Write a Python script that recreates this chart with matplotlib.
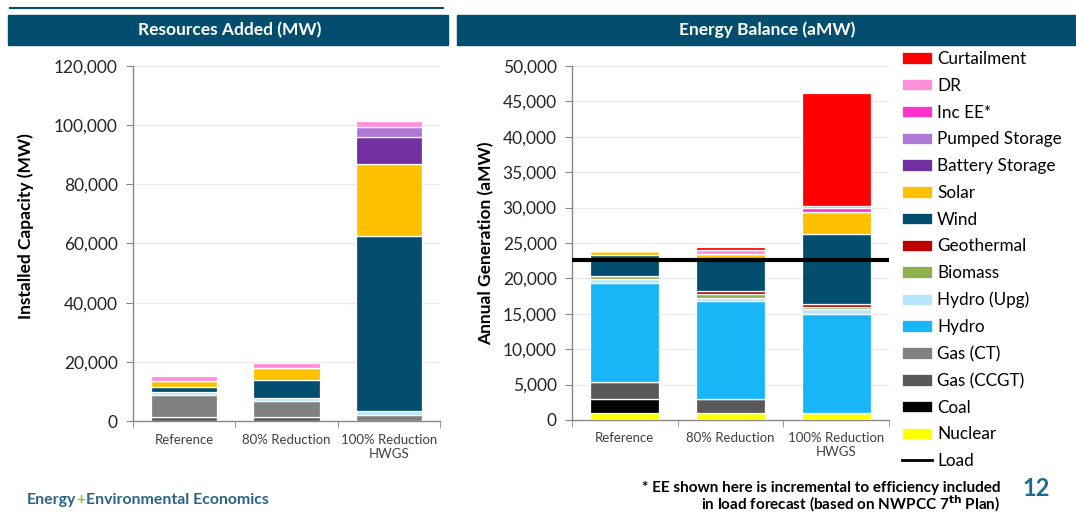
import numpy as np
import matplotlib
matplotlib.use("Agg")
import matplotlib.pyplot as plt
from matplotlib.patches import Rectangle, Patch
from matplotlib.lines import Line2D

plt.rcParams['font.family'] = ['Lato', 'DejaVu Sans']

# ---- data ----
scenarios = ["Reference", "80% Reduction", "100% Reduction\nHWGS"]

# Resources Added (MW)
add_ccgt = [1500, 1400, 0]
add_ct = [7200, 5400, 1900]
add_hydro_upg = [1100, 1100, 1400]
add_wind = [1700, 5900, 59200]
add_solar = [2000, 4000, 24300]
add_battery = [0, 0, 9100]
add_pumped = [0, 0, 3500]
add_dr = [1600, 1800, 2000]

# Energy Balance (aMW)
gen_nuclear = [1000, 1000, 1000]
gen_coal = [2000, 0, 0]
gen_ccgt = [2400, 1900, 0]
gen_ct = [0, 0, 0]
gen_hydro = [14000, 13900, 14000]
gen_hydro_upg = [500, 500, 700]
gen_biomass = [500, 500, 300]
gen_geothermal = [0, 400, 400]
gen_wind = [2900, 4600, 9900]
gen_solar = [500, 700, 3100]
gen_battery = [0, 0, 0]
gen_pumped = [0, 0, 0]
gen_inc_ee = [0, 0, 600]
gen_dr = [0, 500, 200]
gen_curtail = [0, 400, 16000]
load = 22600

colors = {
    "Curtailment": "#FF0000",
    "DR": "#FF8FDA",
    "Inc EE*": "#FF33CC",
    "Pumped Storage": "#AE78D6",
    "Battery Storage": "#7030A0",
    "Solar": "#FFC000",
    "Wind": "#034E6E",
    "Geothermal": "#C00000",
    "Biomass": "#8FB24E",
    "Hydro (Upg)": "#B8E6FA",
    "Hydro": "#19B6F7",
    "Gas (CT)": "#808080",
    "Gas (CCGT)": "#595959",
    "Coal": "#000000",
    "Nuclear": "#FFFF00",
}
teal = "#034E6E"

left_layers = [("Gas (CCGT)", add_ccgt), ("Gas (CT)", add_ct), ("Hydro (Upg)", add_hydro_upg),
               ("Wind", add_wind), ("Solar", add_solar), ("Battery Storage", add_battery),
               ("Pumped Storage", add_pumped), ("DR", add_dr)]
right_layers = [("Nuclear", gen_nuclear), ("Coal", gen_coal), ("Gas (CCGT)", gen_ccgt),
                ("Gas (CT)", gen_ct), ("Hydro", gen_hydro), ("Hydro (Upg)", gen_hydro_upg),
                ("Biomass", gen_biomass), ("Geothermal", gen_geothermal), ("Wind", gen_wind),
                ("Solar", gen_solar), ("Battery Storage", gen_battery), ("Pumped Storage", gen_pumped),
                ("Inc EE*", gen_inc_ee), ("DR", gen_dr), ("Curtailment", gen_curtail)]

W, H = 1076, 514
fig = plt.figure(figsize=(W / 100, H / 100), dpi=100)


def fx(px):
    return px / W


def fy(py):
    return 1 - py / H


ax1 = fig.add_axes([fx(133), fy(421), fx(440) - fx(133), fy(66) - fy(421)])
ax2 = fig.add_axes([fx(572), fy(420), fx(889) - fx(572), fy(66) - fy(420)])


def stack(ax, layers):
    x = np.arange(len(scenarios))
    bottom = np.zeros(len(scenarios))
    for name, vals in layers:
        v = np.array(vals, dtype=float)
        ax.bar(x, v, 0.65, bottom=bottom, color=colors[name], edgecolor="white", linewidth=0.9, zorder=3)
        bottom += v


def style(ax, ymax, step):
    ax.set_xlim(-0.5, 2.5)
    ax.set_ylim(0, ymax)
    ax.set_yticks(np.arange(0, ymax + 1, step))
    ax.yaxis.set_major_formatter(matplotlib.ticker.FuncFormatter(lambda v, p: f"{int(v):,}"))
    ax.set_xticks(range(len(scenarios)))
    ax.set_xticklabels(scenarios, fontsize=9.5, color="#404040")
    ax.set_xticks([-0.5, 0.5, 1.5, 2.5], minor=True)
    ax.tick_params(axis="x", which="major", length=0, pad=9)
    ax.tick_params(axis="x", which="minor", length=5, color="#888888")
    ax.tick_params(axis="y", labelsize=12.5, length=5, color="#888888", labelcolor="#262626", pad=6)
    for s in ["top", "right"]:
        ax.spines[s].set_visible(False)
    for s in ["left", "bottom"]:
        ax.spines[s].set_color("#888888")
        ax.spines[s].set_linewidth(1.0)
    ax.grid(axis="y", color="#E8E8E8", linewidth=0.9, zorder=0)
    ax.set_axisbelow(True)


stack(ax1, left_layers)
style(ax1, 120000, 20000)
ax1.set_ylabel("Installed Capacity (MW)", fontsize=12.5, fontweight="bold")
ax1.yaxis.set_label_coords(-0.322, 0.55)

stack(ax2, right_layers)
style(ax2, 50000, 5000)
ax2.axhline(load, color="black", linewidth=3, zorder=4)
ax2.set_ylabel("Annual Generation (aMW)", fontsize=12.5, fontweight="bold")
ax2.yaxis.set_label_coords(-0.246, 0.5)

# legend
order = ["Curtailment", "DR", "Inc EE*", "Pumped Storage", "Battery Storage", "Solar", "Wind",
         "Geothermal", "Biomass", "Hydro (Upg)", "Hydro", "Gas (CT)", "Gas (CCGT)", "Coal", "Nuclear"]
handles = [Patch(facecolor=colors[n], edgecolor="white", linewidth=0.5) for n in order]
handles.append(Line2D([0], [0], color="black", linewidth=2))
labels = order + ["Load"]
fig.legend(handles, labels, loc="upper left", bbox_to_anchor=(fx(902), fy(51)),
           frameon=False, fontsize=12.3, handlelength=1.75, handleheight=0.65,
           handletextpad=0.3, labelspacing=0.63, borderaxespad=0, borderpad=0)

# header bars
fig.patches.append(Rectangle((fx(8), fy(45)), fx(448) - fx(8), fy(15) - fy(45),
                             transform=fig.transFigure, color=teal, zorder=0))
fig.patches.append(Rectangle((fx(457), fy(45)), fx(1076) - fx(457), fy(15) - fy(45),
                             transform=fig.transFigure, color=teal, zorder=0))
fig.add_artist(Line2D([fx(10), fx(443)], [fy(8), fy(8)], color=teal, linewidth=1.5))
fig.text(fx(230), fy(30), "Resources Added (MW)", color="white", fontsize=12.5,
         fontweight="bold", ha="center", va="center")
fig.text(fx(767), fy(30), "Energy Balance (aMW)", color="white", fontsize=12.5,
         fontweight="bold", ha="center", va="center")

# footnote
fig.text(fx(1000), fy(488), "* EE shown here is incremental to efficiency included",
         fontsize=11, fontweight="bold", ha="right", va="center")
fig.text(fx(1000), fy(504), r"in load forecast (based on NWPCC 7$^{\mathbf{th}}$ Plan)",
         fontsize=11, fontweight="bold", ha="right", va="center")
fig.text(fx(1036), fy(489), "12", fontsize=17, fontweight="bold", color="#1F6B8C",
         ha="center", va="center")

# logo text
t1 = fig.text(fx(27), fy(500), "Energy", fontsize=11.4, fontweight="bold", color="#2A6384",
              ha="left", va="center")
t2 = ax1.annotate("+", xy=(1, 0.5), xycoords=t1, fontsize=11.4, fontweight="bold",
                  color="#8DC63F", ha="left", va="center", annotation_clip=False)
ax1.annotate("Environmental Economics", xy=(1, 0.5), xycoords=t2, fontsize=11.4,
             fontweight="bold", color="#2A6384", ha="left", va="center", annotation_clip=False)

fig.savefig("out.png", dpi=100)
